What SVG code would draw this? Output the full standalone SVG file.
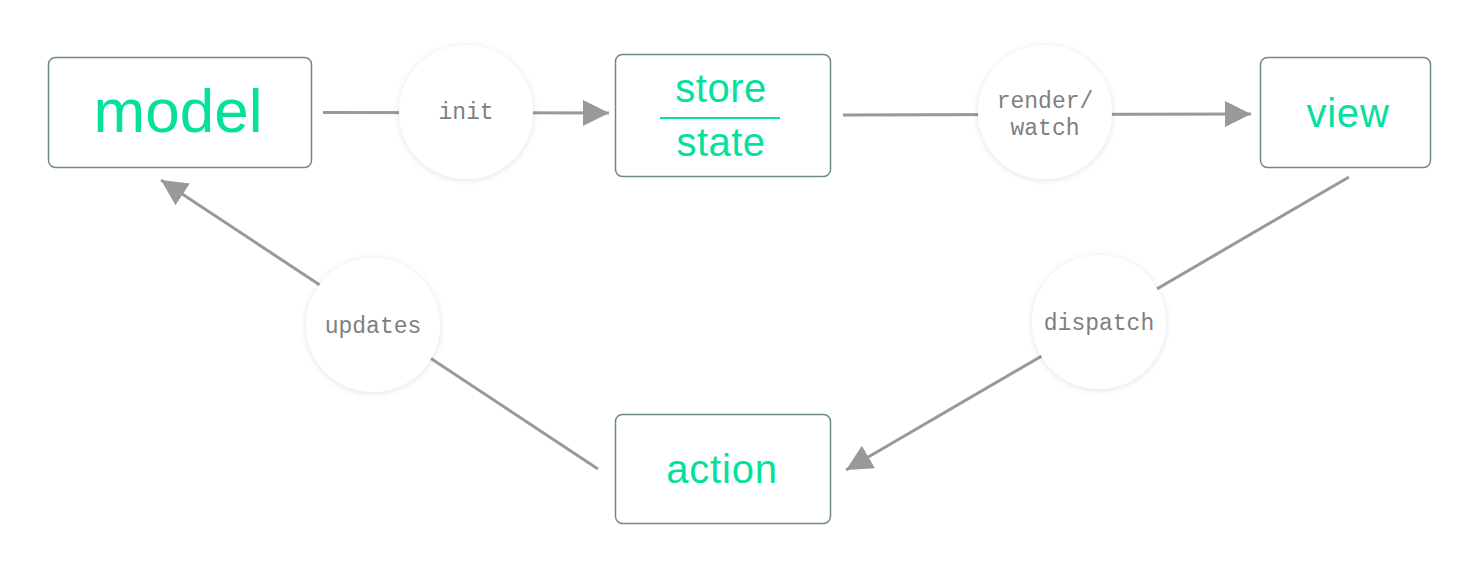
<svg xmlns="http://www.w3.org/2000/svg" width="1482" height="579" viewBox="0 0 1482 579">
<style>
.box{fill:#fff;stroke:#6d8a82;stroke-width:1.5}
.big{font-family:"Liberation Sans",Arial,sans-serif;fill:#05e09d;text-anchor:middle}
.lbl{font-family:"Liberation Mono","DejaVu Sans Mono",monospace;font-size:23px;fill:#808080;text-anchor:middle}
.conn{stroke:#999;stroke-width:3;fill:none}
.bub{fill:#fff}
</style>
<defs>
<marker id="arr" markerUnits="userSpaceOnUse" markerWidth="28" markerHeight="26" refX="26" refY="13" orient="auto">
<path d="M0,0 L26,13 L0,26 Z" fill="#999"/>
</marker>
<filter id="sh" x="-20%" y="-20%" width="140%" height="140%">
<feDropShadow dx="0" dy="1" stdDeviation="3" flood-color="#000" flood-opacity="0.12"/>
</filter>
</defs>
<rect width="1482" height="579" fill="#fff"/>
<g id="connectors">
<line class="conn" x1="323" y1="112.5" x2="609" y2="113" marker-end="url(#arr)"/>
<line class="conn" x1="843" y1="115" x2="1251" y2="114" marker-end="url(#arr)"/>
<line class="conn" x1="1349" y1="177" x2="846" y2="470" marker-end="url(#arr)"/>
<line class="conn" x1="598" y1="469" x2="161" y2="180" marker-end="url(#arr)"/>
</g>
<g id="model">
<rect class="box" x="48.5" y="57.5" width="263" height="110" rx="7"/>
<text class="big" x="178" y="132" font-size="62">model</text>
</g>
<g id="store">
<rect class="box" x="615.5" y="54.5" width="215" height="122" rx="7"/>
<text class="big" x="721" y="102" font-size="40" letter-spacing="0.5">store</text>
<line x1="660" y1="118" x2="780" y2="118" stroke="#05e09d" stroke-width="2"/>
<text class="big" x="721" y="156" font-size="40" letter-spacing="0.5">state</text>
</g>
<g id="view">
<rect class="box" x="1260.5" y="57.5" width="170" height="110" rx="7"/>
<text class="big" x="1348" y="127" font-size="40" letter-spacing="0.8">view</text>
</g>
<g id="action">
<rect class="box" x="615.5" y="414.5" width="215" height="109" rx="7"/>
<text class="big" x="722" y="483" font-size="40" letter-spacing="0.8">action</text>
</g>
<g id="init">
<circle class="bub" cx="466" cy="112" r="67" filter="url(#sh)"/>
<text class="lbl" x="466" y="119">init</text>
</g>
<g id="render-watch">
<circle class="bub" cx="1045" cy="112" r="67" filter="url(#sh)"/>
<text class="lbl" x="1045" y="108">render/</text>
<text class="lbl" x="1045" y="135">watch</text>
</g>
<g id="dispatch">
<circle class="bub" cx="1099" cy="322" r="67" filter="url(#sh)"/>
<text class="lbl" x="1099" y="330">dispatch</text>
</g>
<g id="updates">
<circle class="bub" cx="373" cy="325" r="67" filter="url(#sh)"/>
<text class="lbl" x="373" y="333">updates</text>
</g>
</svg>
